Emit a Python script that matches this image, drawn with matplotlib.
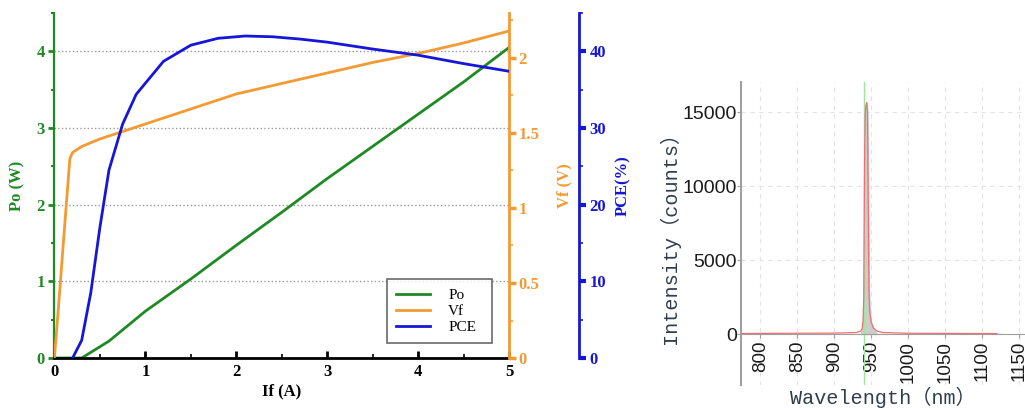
import numpy as np
import matplotlib
matplotlib.use("Agg")
import matplotlib.pyplot as plt
from matplotlib.ticker import MultipleLocator

# ---------------- data: left chart ----------------
po_if = [0.0, 0.3, 0.6, 1.0, 1.5, 2.0, 2.5, 3.0, 3.5, 4.0, 4.5, 5.0]
po_w = [0.0, 0.0, 0.22, 0.61, 1.03, 1.47, 1.90, 2.34, 2.76, 3.18, 3.60, 4.05]

vf_if = [0.0, 0.05, 0.1, 0.17, 0.2, 0.3, 0.5, 0.75, 1.0, 1.5, 2.0, 2.5, 3.0, 3.5, 4.0, 4.5, 5.0]
vf_v = [0.0, 0.38, 0.78, 1.33, 1.37, 1.41, 1.46, 1.51, 1.56, 1.66, 1.76, 1.83, 1.90, 1.97, 2.03, 2.10, 2.18]

pce_if = [0.2, 0.3, 0.4, 0.5, 0.6, 0.75, 0.9, 1.2, 1.5, 1.8, 2.1, 2.4, 2.7, 3.0, 3.5, 4.0, 4.5, 5.0]
pce_pct = [0.0, 2.3, 8.5, 17.0, 24.5, 30.5, 34.4, 38.7, 40.8, 41.7, 42.0, 41.9, 41.6, 41.2, 40.3, 39.5, 38.4, 37.4]

# ---------------- data: right chart ----------------
wl_nm = [775, 800, 850, 900, 930, 936, 938, 939, 940, 941, 942, 943, 944, 945,
         946, 947, 948, 950, 953, 958, 965, 1000, 1050, 1100, 1120]
counts = [30, 40, 50, 60, 100, 200, 400, 900, 2500, 11500, 15000, 15500, 15650, 15000,
          9000, 3000, 1500, 800, 400, 200, 100, 50, 40, 30, 30]
marker_wl = 940

x_ticks_right = [800, 850, 900, 950, 1000, 1050, 1100, 1150]
y_ticks_right = [0, 5000, 10000, 15000]

GREEN = '#1f8a24'
ORANGE = '#f39a34'
BLUE = '#1616d8'

fig = plt.figure(figsize=(10.25, 4.08), dpi=100)

# ---------------- left chart ----------------
serif = 'Liberation Serif'
ax = fig.add_axes([54.4/1025, 50/408, 454.6/1025, 345/408])
ax.plot(po_if, po_w, color=GREEN, lw=2.0, label='Po')
ax.set_xlim(0, 5)
ax.set_ylim(0, 4.5)
ax.set_yticks([0, 1, 2, 3, 4])
ax.set_xticks([0, 1, 2, 3, 4, 5])
ax.xaxis.set_minor_locator(MultipleLocator(0.5))
ax.yaxis.set_minor_locator(MultipleLocator(0.5))
ax.yaxis.grid(True, linestyle=':', color='#999999', lw=1.0)
ax.set_axisbelow(True)
ax.spines['top'].set_visible(False)
ax.spines['left'].set_color(GREEN)
ax.spines['left'].set_linewidth(1.6)
ax.spines['bottom'].set_linewidth(2.0)
ax.spines['right'].set_visible(False)
ax.tick_params(axis='x', direction='in', length=5, width=2, colors='black', labelsize=12, pad=4)
ax.tick_params(axis='x', which='minor', direction='in', length=3, width=1.2)
ax.tick_params(axis='y', direction='out', length=4, width=2, colors=GREEN, labelsize=12, pad=3)
ax.tick_params(axis='y', which='minor', direction='out', length=2, width=1.5, colors=GREEN)
for lab in ax.get_xticklabels() + ax.get_yticklabels():
    lab.set_fontfamily(serif)
    lab.set_fontweight('bold')
ax.set_xlabel('If (A)', fontfamily=serif, fontweight='bold', fontsize=12, labelpad=3)
ax.set_ylabel('Po (W)', fontfamily=serif, fontweight='bold', fontsize=12, color=GREEN, labelpad=8)

ax2 = ax.twinx()
ax2.plot(vf_if, vf_v, color=ORANGE, lw=2.0, label='Vf')
ax2.set_ylim(0, 2.3)
ax2.set_yticks([0, 0.5, 1, 1.5, 2])
ax2.set_yticklabels(['0', '0.5', '1', '1.5', '2'])
ax2.yaxis.set_minor_locator(MultipleLocator(0.25))
for s in ['top', 'left', 'bottom']:
    ax2.spines[s].set_visible(False)
ax2.spines['right'].set_color(ORANGE)
ax2.spines['right'].set_linewidth(2.0)
ax2.tick_params(axis='y', direction='out', length=5, width=2.5, colors=ORANGE, labelsize=12, pad=2)
ax2.tick_params(axis='y', which='minor', direction='out', length=3, width=1.2, colors=ORANGE)
for lab in ax2.get_yticklabels():
    lab.set_fontfamily(serif)
    lab.set_fontweight('bold')
ax2.set_ylabel('Vf (V)', fontfamily=serif, fontweight='bold', fontsize=12, color=ORANGE, labelpad=12)

ax3 = ax.twinx()
ax3.spines['right'].set_position(('axes', (578.6 - 54.4) / 454.6))
ax3.plot(pce_if, pce_pct, color=BLUE, lw=2.0, label='PCE')
ax3.set_ylim(0, 45)
ax3.set_yticks([0, 10, 20, 30, 40])
ax3.yaxis.set_minor_locator(MultipleLocator(5))
for s in ['top', 'left', 'bottom']:
    ax3.spines[s].set_visible(False)
ax3.spines['right'].set_color(BLUE)
ax3.spines['right'].set_linewidth(2.0)
ax3.tick_params(axis='y', direction='out', length=5, width=3, colors=BLUE, labelsize=12, pad=3)
ax3.tick_params(axis='y', which='minor', direction='out', length=3, width=1.2, colors=BLUE)
for lab in ax3.get_yticklabels():
    lab.set_fontfamily(serif)
    lab.set_fontweight('bold')
ax3.set_ylabel('PCE(%)', fontfamily=serif, fontweight='bold', fontsize=12, color=BLUE, labelpad=6)

handles = ax.get_lines()[:1] + ax2.get_lines()[:1] + ax3.get_lines()[:1]
leg = ax3.legend(handles, [h.get_label() for h in handles], loc='lower left',
                 bbox_to_anchor=(0.732, 0.043, 0.231, 0.2), mode='expand', borderaxespad=0,
                 prop={'family': serif, 'size': 11}, fancybox=False, frameon=True,
                 handlelength=2.2, labelspacing=0.15, borderpad=0.6, handletextpad=1.2)
leg.get_frame().set_edgecolor('#444444')
leg.get_frame().set_linewidth(1.2)

# ---------------- right chart ----------------
axr = fig.add_axes([741/1025, 23/408, 284/1025, 303.3/408])
axr.set_xlim(774, 1158)
axr.set_ylim(-3450, 17070)
axr.axvline(marker_wl, color='#9be89b', lw=1.0, zorder=2)
axr.fill_between(wl_nm, 0, counts, where=[(w >= 938 and w <= 953) for w in wl_nm],
                 color='#cccccc', zorder=1, interpolate=True)
axr.plot(wl_nm, counts, color='#f07070', lw=0.9, zorder=3)
axr.set_xticks(x_ticks_right)
axr.set_yticks(y_ticks_right)
axr.grid(True, linestyle=(0, (4, 4)), color='#e4e4e4', lw=0.8)
axr.set_axisbelow(True)
axr.spines['top'].set_visible(False)
axr.spines['right'].set_visible(False)
axr.spines['bottom'].set_position(('data', 0))
axr.spines['bottom'].set_color('#a0a0a0')
axr.spines['left'].set_color('#a0a0a0')
axr.spines['left'].set_linewidth(1.5)
axr.tick_params(axis='x', direction='out', length=3, colors='#a0a0a0', labelcolor='#1a1a1a',
                labelsize=13.5, labelrotation=90, pad=2)
axr.tick_params(axis='y', direction='out', length=3, colors='#a0a0a0', labelcolor='#1a1a1a',
                labelsize=14, pad=0)
for lab in axr.get_xticklabels() + axr.get_yticklabels():
    lab.set_fontfamily('Liberation Sans')
mono = ['Liberation Mono', 'Noto Sans CJK SC', 'DejaVu Sans']
axr.set_ylabel('Intensity（counts）', family=mono, fontsize=14.5, color='#2e3e4e', labelpad=2)
axr.set_xlabel('Wavelength（nm）', family=mono, fontsize=14.5, color='#2e3e4e')
axr.xaxis.set_label_coords(0.5, -0.005)
axr.xaxis.label.set_verticalalignment('top')

fig.savefig('out.png', dpi=100)
